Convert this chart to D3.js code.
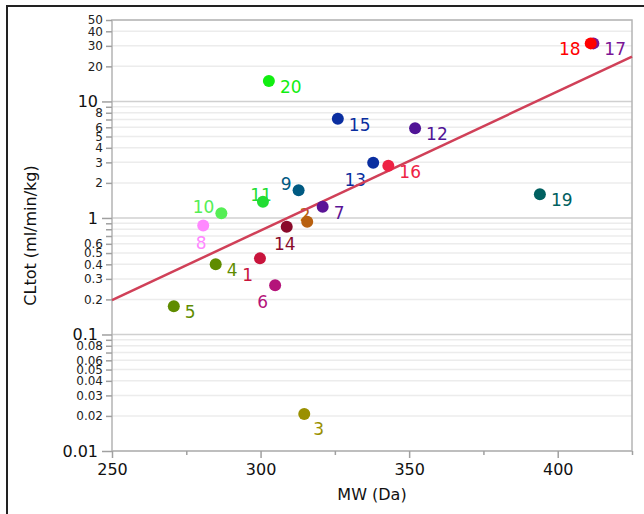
<!DOCTYPE html>
<html>
<head>
<meta charset="utf-8">
<script src="https://cdn.jsdelivr.net/npm/d3@7"></script>
<style>
  body { margin: 0; background: #fff; }
  svg { display: block; font-family: "DejaVu Sans", Verdana, sans-serif; }
</style>
</head>
<body>
<div id="chart"></div>
<script>
// compound data
var ids    = [1, 2, 3, 4, 5, 6, 7, 8, 9, 10, 11, 12, 13, 14, 15, 16, 17, 18, 19, 20];
var mw     = [299.8, 315.7, 314.7, 284.9, 270.8, 304.9, 320.9, 280.7, 312.8, 286.8,
              300.8, 352.0, 337.9, 308.8, 326.0, 343.0, 412.0, 411.1, 394.0, 302.8];
var cltot  = [0.45, 0.93, 0.0208, 0.40, 0.175, 0.265, 1.25, 0.86, 1.73, 1.10,
              1.38, 5.9, 2.98, 0.84, 7.1, 2.80, 31.5, 31.5, 1.60, 15.0];
var colors = ["#c8143c", "#b8600f", "#9a9000", "#5f8c00", "#5f8c00", "#b4147a", "#5a1496", "#ff88ff", "#005a82", "#55ee55",
              "#22dd33", "#501496", "#0a2ea0", "#8a0a2a", "#0a2ea0", "#ee2244", "#7a1496", "#ff0000", "#006060", "#11ee11"];
// where each number sits around its dot
var labelPos = ["sw", "n", "se", "e", "e", "sw", "e", "s", "nw", "nw",
                "n", "e", "sw", "s", "e", "e", "e", "w", "e", "e"];

// regression line: log10(CL) = intercept + slope * MW
var fitSlope = 0.011937;
var fitIntercept = -3.689;

var xDomain = [250, 425];
var yDomain = [0.01, 50];
var xMajorTicks = [250, 300, 350, 400];
var xMinorTicks = [275, 325, 375, 425];
var yBigLabels = [0.01, 0.1, 1, 10];
var ySmallLabels = [0.02, 0.03, 0.04, 0.05, 0.06, 0.08, 0.2, 0.3, 0.4, 0.5, 0.6, 2, 3, 4, 5, 6, 8, 20, 30, 40, 50];

var W = 644, H = 514;
var plotL = 112, plotR = 632, plotT = 20, plotB = 451;

var svg = d3.select("#chart").append("svg")
    .attr("width", W)
    .attr("height", H);

// outer frame (runs off the right and bottom edges)
svg.append("rect")
    .attr("x", 7).attr("y", 6)
    .attr("width", 700).attr("height", 600)
    .attr("fill", "none")
    .attr("stroke", "#222")
    .attr("stroke-width", 2);

var x = d3.scaleLinear().domain(xDomain).range([plotL, plotR]);
var y = d3.scaleLog().domain(yDomain).range([plotB, plotT]);

// all 1..9 multiples in the y range
var yAll = [];
[0.01, 0.1, 1, 10].forEach(function (dec) {
    for (var k = 1; k <= 9; k++) {
        var v = +(dec * k).toPrecision(3);
        if (v <= yDomain[1]) yAll.push(v);
    }
});

function isDecade(v) {
    return yBigLabels.indexOf(v) >= 0;
}
var yMinor = yAll.filter(function (v) { return !isDecade(v); });

// grid
svg.append("g").selectAll("line")
    .data(yMinor)
    .enter().append("line")
    .attr("x1", plotL).attr("x2", plotR)
    .attr("y1", function (d) { return y(d); })
    .attr("y2", function (d) { return y(d); })
    .attr("stroke", "#ececec")
    .attr("stroke-width", 1.5);
svg.append("g").selectAll("line")
    .data(yBigLabels)
    .enter().append("line")
    .attr("x1", plotL).attr("x2", plotR)
    .attr("y1", function (d) { return y(d); })
    .attr("y2", function (d) { return y(d); })
    .attr("stroke", "#d0d0d0")
    .attr("stroke-width", 1.5);

// plot border
svg.append("rect")
    .attr("x", plotL).attr("y", plotT)
    .attr("width", plotR - plotL).attr("height", plotB - plotT)
    .attr("fill", "none")
    .attr("stroke", "#b4b4b4")
    .attr("stroke-width", 1.5);

// y axis ticks
var yAxisBig = d3.axisLeft(y).tickValues(yBigLabels).tickSize(10).tickPadding(4)
    .tickFormat(function (d) { return String(d); });
var yAxisSmall = d3.axisLeft(y).tickValues(yMinor).tickSize(6).tickPadding(3)
    .tickFormat(function (d) { return ySmallLabels.indexOf(d) >= 0 ? String(d) : ""; });

var gyS = svg.append("g").attr("transform", "translate(" + plotL + ",0)").call(yAxisSmall);
gyS.selectAll("text").attr("font-size", 12).attr("fill", "#222").attr("font-family", "DejaVu Sans");
var gyB = svg.append("g").attr("transform", "translate(" + plotL + ",0)").call(yAxisBig);
gyB.selectAll("text").attr("font-size", 16).attr("fill", "#111").attr("font-family", "DejaVu Sans");

// x axis ticks
var xAxisMajor = d3.axisBottom(x).tickValues(xMajorTicks).tickSize(7).tickPadding(6);
var xAxisMinor = d3.axisBottom(x).tickValues(xMinorTicks).tickSize(4).tickFormat("");
var gxm = svg.append("g").attr("transform", "translate(0," + plotB + ")").call(xAxisMinor);
var gx = svg.append("g").attr("transform", "translate(0," + plotB + ")").call(xAxisMajor);
gx.selectAll("text").attr("font-size", 16).attr("fill", "#111").attr("font-family", "DejaVu Sans");

[gyS, gyB, gxm, gx].forEach(function (g) {
    g.select(".domain").remove();
    g.selectAll("line").attr("stroke", "#a0a0a0").attr("stroke-width", 1.5);
});

// axis titles
svg.append("text")
    .attr("x", (plotL + plotR) / 2).attr("y", 500)
    .attr("text-anchor", "middle")
    .attr("font-size", 16).attr("fill", "#111")
    .text("MW (Da)");
svg.append("text")
    .attr("transform", "translate(36," + ((plotT + plotB) / 2) + ") rotate(-90)")
    .attr("text-anchor", "middle")
    .attr("font-size", 16).attr("fill", "#111")
    .text("CLtot (ml/min/kg)");

var points = ids.map(function (id, i) {
    return { id: id, mw: mw[i], cl: cltot[i], color: colors[i], pos: labelPos[i] };
});

// label offsets: [anchor, dx, dy]
var offsets = {
    e:  ["start", 11, 6],
    w:  ["end", -10, 6],
    sw: ["end", -7, 17],
    nw: ["end", -7, -6],
    n:  ["middle", -2, -7],
    s:  ["middle", -2, 17],
    se: ["start", 9, 15]
};

svg.append("g").selectAll("text")
    .data(points)
    .enter().append("text")
    .attr("x", function (d) { return x(d.mw) + offsets[d.pos][1]; })
    .attr("y", function (d) { return y(d.cl) + offsets[d.pos][2]; })
    .attr("text-anchor", function (d) { return offsets[d.pos][0]; })
    .attr("dominant-baseline", "central")
    .attr("font-size", 17)
    .attr("fill", function (d) { return d.color; })
    .text(function (d) { return d.id; });

// fit line
svg.append("line")
    .attr("x1", x(xDomain[0])).attr("y1", y(Math.pow(10, fitIntercept + fitSlope * xDomain[0])))
    .attr("x2", x(xDomain[1])).attr("y2", y(Math.pow(10, fitIntercept + fitSlope * xDomain[1])))
    .attr("stroke", "#d04058")
    .attr("stroke-width", 2.5);

// dots
svg.append("g").selectAll("circle")
    .data(points)
    .enter().append("circle")
    .attr("cx", function (d) { return x(d.mw); })
    .attr("cy", function (d) { return y(d.cl); })
    .attr("r", 6)
    .attr("fill", function (d) { return d.color; });
</script>
</body>
</html>
